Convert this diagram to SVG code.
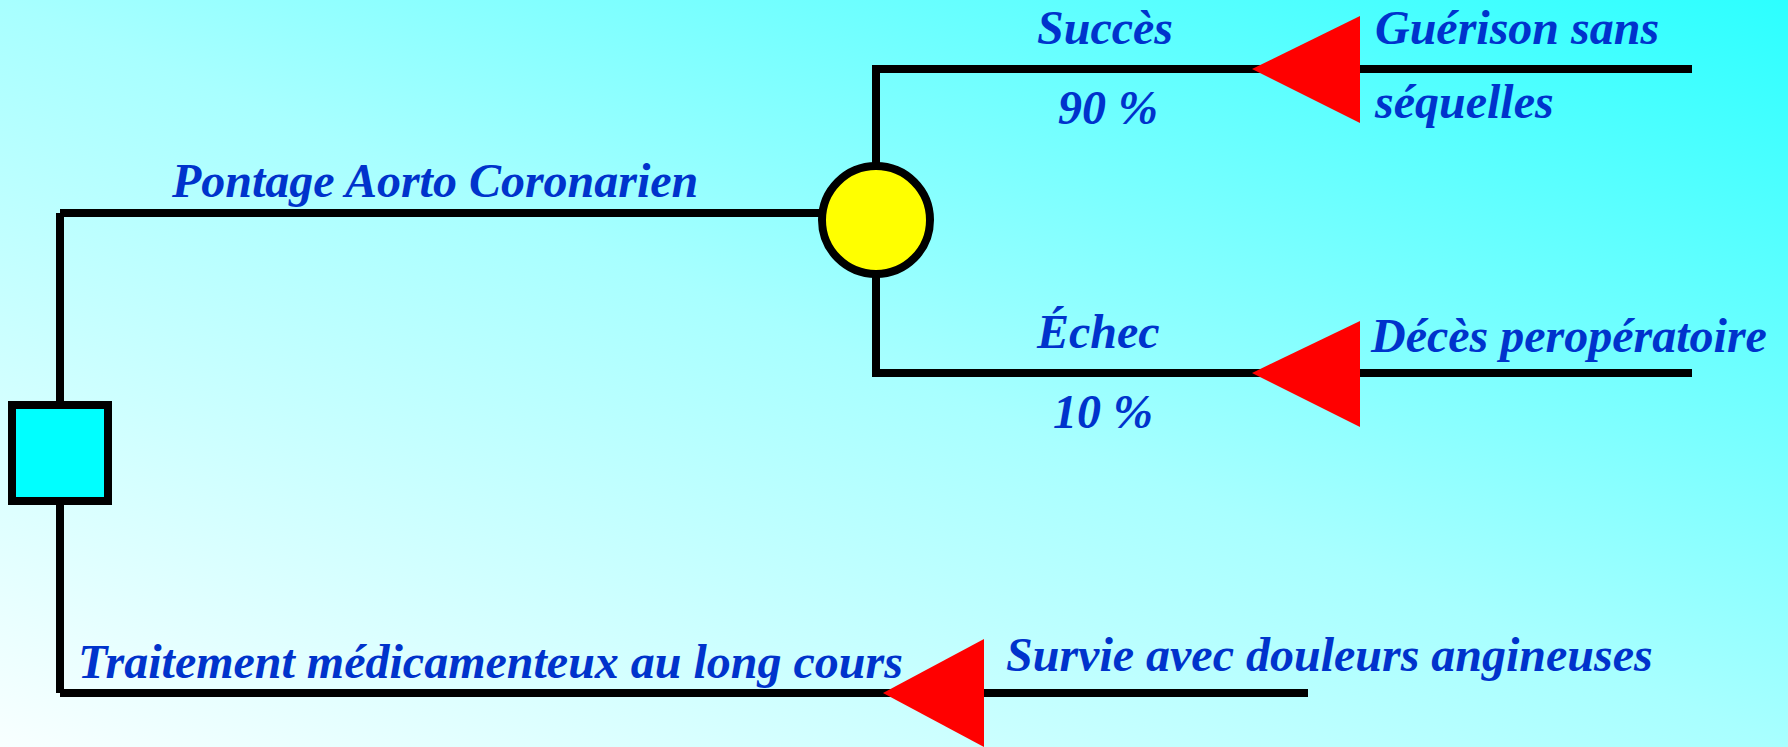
<svg xmlns="http://www.w3.org/2000/svg" width="1788" height="747" viewBox="0 0 1788 747">
<defs>
<linearGradient id="bg" x1="0" y1="1" x2="1" y2="0">
<stop offset="0" stop-color="#F8FFFF"/>
<stop offset="0.5" stop-color="#A8FFFF"/>
<stop offset="1" stop-color="#2CFFFF"/>
</linearGradient>
<style>
.ln{stroke:#000;stroke-width:8;fill:none}
.tri{fill:#FF0000}
.t{font-family:"Liberation Serif","Times New Roman",serif;font-weight:bold;font-style:italic;font-size:48px;fill:#0033CC}
</style>
</defs>
<rect x="0" y="0" width="1788" height="747" fill="url(#bg)"/>
<g id="connectors">
<path class="ln" d="M60 213 H824"/>
<path class="ln" d="M60 213 V693"/>
<path class="ln" d="M60 693 H1308"/>
<path class="ln" d="M876 166 V69 H1692"/>
<path class="ln" d="M876 275 V373 H1692"/>
<polygon class="tri" points="1252,69 1360,16 1360,123"/>
<polygon class="tri" points="1252,373 1360,321 1360,427"/>
<polygon class="tri" points="883,693 984,639 984,747"/>
</g>
<g id="decision">
<rect x="12" y="405" width="96" height="96" fill="#00FFFF" stroke="#000" stroke-width="8"/>
</g>
<g id="chance">
<circle cx="876" cy="220" r="54" fill="#FFFF00" stroke="#000" stroke-width="8"/>
</g>
<g id="labels">
<text class="t" x="172" y="197">Pontage Aorto Coronarien</text>
<text class="t" x="78" y="678">Traitement médicamenteux au long cours</text>
<text class="t" x="1037" y="44">Succès</text>
<text class="t" x="1058" y="124">90 %</text>
<text class="t" x="1037" y="348">Échec</text>
<text class="t" x="1053" y="428">10 %</text>
</g>
<g id="outcome-guerison">
<text class="t" x="1375" y="44">Guérison sans</text>
<text class="t" x="1375" y="118">séquelles</text>
</g>
<g id="outcome-deces">
<text class="t" x="1371" y="352">Décès peropératoire</text>
</g>
<g id="outcome-survie">
<text class="t" x="1006" y="671">Survie avec douleurs angineuses</text>
</g>
</svg>
